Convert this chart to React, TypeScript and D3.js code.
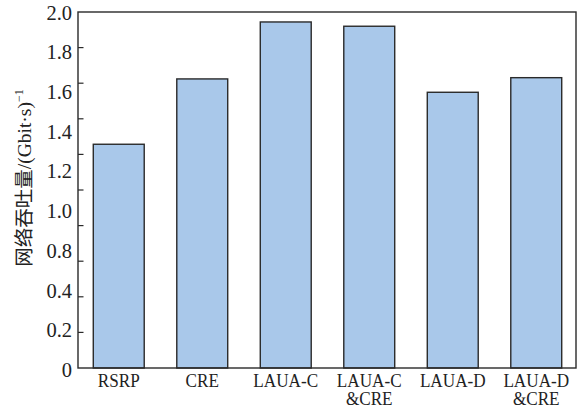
import React from "react";
import * as d3 from "d3";

const categories: string[][] = [["RSRP"], ["CRE"], ["LAUA-C"], ["LAUA-C", "&CRE"], ["LAUA-D"], ["LAUA-D", "&CRE"]];
const values: number[] = [1.257, 1.624, 1.944, 1.92, 1.549, 1.631];
const tickValues: number[] = [0.2, 0.4, 0.6, 0.8, 1.0, 1.2, 1.4, 1.6, 1.8];
const tickLabels: string[] = ["2.0", "1.8", "1.6", "1.4", "1.2", "1.0", "0.8", "0.4", "0.2", "0"];
const yTitle = "网络吞吐量/(Gbit·s)";
const yTitleSup = "−1";

const W = 580;
const H = 408;
const left = 78;
const right = 576;
const top = 12;
const bottom = 368;
const FONT = '"Liberation Serif", "Times New Roman", "Noto Sans CJK SC", serif';

export default function App() {
  const keys = categories.map((c) => c.join(""));
  const x = d3.scaleBand<string>().domain(keys).range([77, 578]).paddingInner(0.39).paddingOuter(0.195);
  const y = d3.scaleLinear().domain([0, 2.0]).range([bottom, top]);
  const yl = d3.scalePoint<string>().domain(tickLabels).range([12.5, 370]);

  return (
    <svg width={W} height={H} style={{ position: "absolute", left: 0, top: 0, background: "#fff" }} fontFamily={FONT}>
      {values.map((v, i) => (
        <rect
          key={keys[i]}
          x={x(keys[i])}
          y={y(v)}
          width={x.bandwidth()}
          height={y(0) - y(v)}
          fill="#a9c8ea"
          stroke="#2a2a2a"
          strokeWidth={1.4}
        />
      ))}
      <rect x={left} y={top} width={right - left} height={bottom - top} fill="none" stroke="#2a2a2a" strokeWidth={1.4} />
      {tickValues.map((t) => (
        <line key={t} x1={left} x2={left + 5.5} y1={y(t)} y2={y(t)} stroke="#2a2a2a" strokeWidth={1.2} />
      ))}
      {tickLabels.map((l) => (
        <text key={l} x={72} y={yl(l)} textAnchor="end" dominantBaseline="central" fontSize={20.5} fill="#222">
          {l}
        </text>
      ))}
      {categories.map((lines, i) => {
        const cx = (x(keys[i]) as number) + x.bandwidth() / 2;
        return (
          <g key={keys[i]} transform={`translate(${cx},386.5) scale(0.88,1)`}>
            {lines.map((ln, j) => (
              <text key={j} x={0} y={j * 19} textAnchor="middle" fontSize={19.5} fill="#222">
                {ln}
              </text>
            ))}
          </g>
        );
      })}
      <text transform="translate(31,178) rotate(-90)" textAnchor="middle" fontSize={19.5} fill="#222">
        {yTitle}
        <tspan dy={-8} fontSize={12}>
          {yTitleSup}
        </tspan>
      </text>
    </svg>
  );
}
